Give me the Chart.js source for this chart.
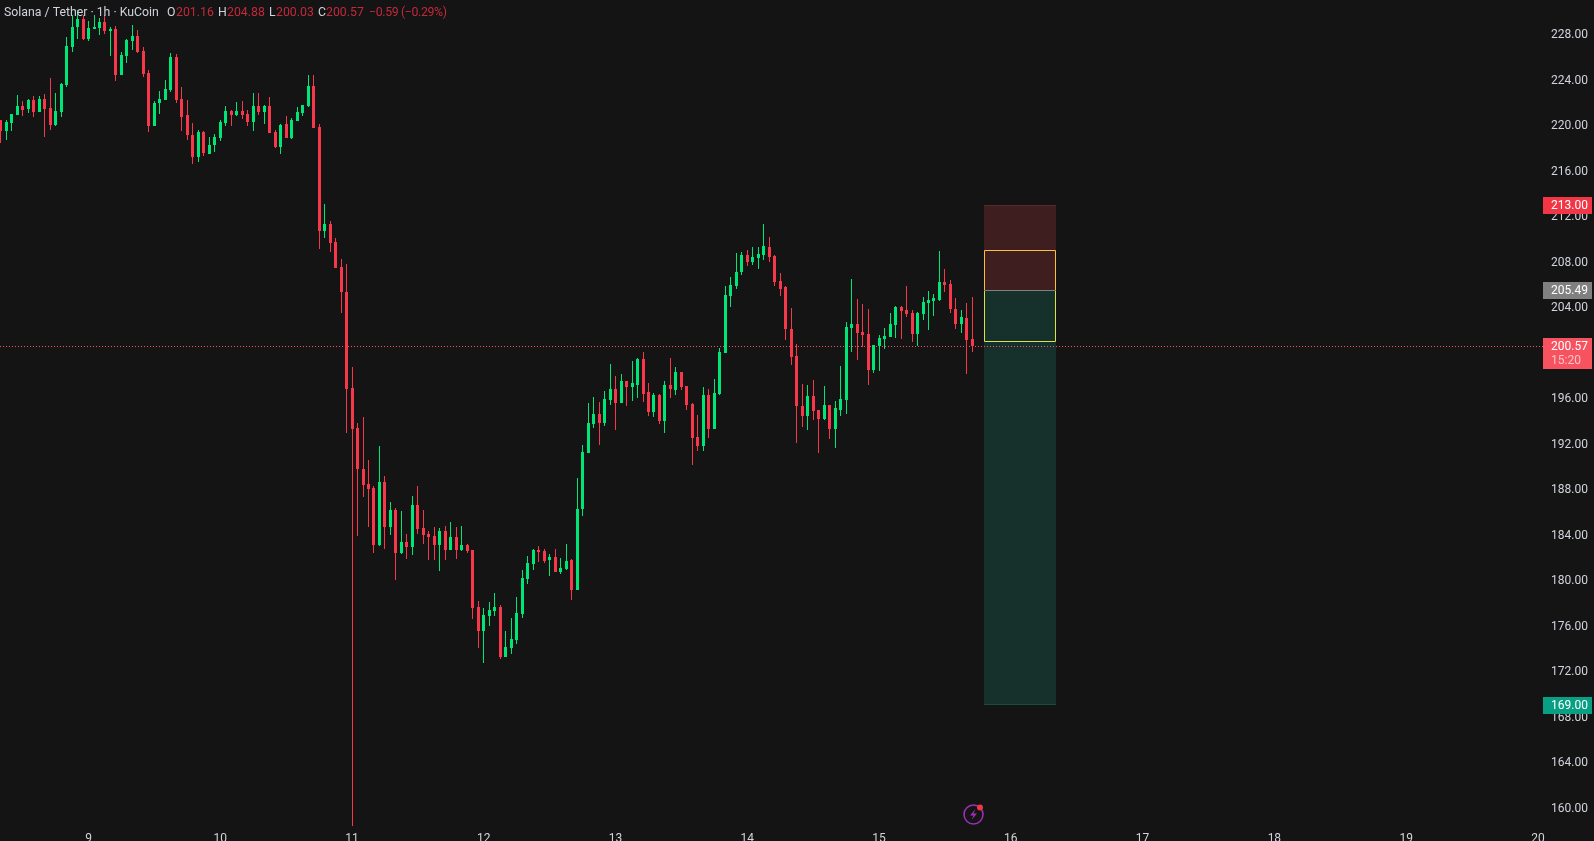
<!DOCTYPE html>
<html lang="en">
<head>
<meta charset="utf-8">
<title>Solana / Tether 1h KuCoin</title>
<script src="https://cdn.jsdelivr.net/npm/chart.js@4"></script>
<style>
  html, body { margin: 0; padding: 0; background: #141414; overflow: hidden; }
  #wrap { position: relative; width: 1594px; height: 841px; }
  #header { position: absolute; left: 4px; top: 5px; font: 12.3px Roboto, sans-serif; color: #d1d4dc; white-space: nowrap; }
  #header span { position: absolute; top: 0; }
  #header .val { color: #c4283c; }
  #header .chg { letter-spacing: -0.35px; }
  #bolt { position: absolute; left: 961px; top: 802px; }
</style>
</head>
<body>
<div id="wrap">
  <canvas id="chart"></canvas>
  <div id="header">
    <span style="left:0">Solana&nbsp;/&nbsp;Tether&nbsp;·&nbsp;1h&nbsp;·&nbsp;KuCoin</span>
    <span style="left:163px">O</span><span class="val" style="left:172px">201.16</span>
    <span style="left:214px">H</span><span class="val" style="left:223px">204.88</span>
    <span style="left:265px">L</span><span class="val" style="left:272px">200.03</span>
    <span style="left:314px">C</span><span class="val" style="left:322px">200.57</span>
    <span class="val chg" style="left:365px">−0.59 (−0.29%)</span>
  </div>
  <svg id="bolt" width="26" height="26" viewBox="0 0 26 26">
    <circle cx="12.5" cy="12.5" r="9.5" fill="none" stroke="#9c2fb5" stroke-width="1.6"/>
    <path d="M14.5 7 L9 13.5 L12.5 13.5 L10.5 18 L16 11.5 L12.5 11.5 Z" fill="#9c2fb5"/>
    <circle cx="19" cy="5.5" r="3" fill="#f23645"/>
  </svg>
</div>
<script>
const opens = [
  220.45,219.48,220.19,220.89,221.68,221.42,222.21,221.15,222.30,221.51,
  220.01,221.15,223.53,226.87,228.63,229.33,227.57,228.45,228.54,229.07,
  228.27,228.45,224.41,226.08,227.40,227.84,226.52,224.58,219.92,221.95,
  222.21,223.09,225.99,222.30,220.89,219.13,217.20,219.40,217.46,218.25,
  218.87,220.19,221.24,220.89,221.24,220.98,220.27,221.68,221.15,221.68,
  219.40,218.08,220.10,218.87,220.36,221.07,221.68,223.44,219.84,210.69,
  211.31,209.73,207.53,205.33,196.89,193.38,189.77,188.45,188.10,183.09,
  188.63,184.67,186.17,182.39,183.35,182.91,186.61,184.59,184.06,183.88,
  183.09,184.32,182.65,183.79,182.65,183.09,182.66,177.65,175.54,176.86,
  177.30,177.65,173.25,174.04,174.75,177.03,180.11,181.43,182.66,182.57,
  181.78,182.04,180.72,180.99,181.78,179.14,186.26,191.19,193.74,194.61,
  193.82,195.85,196.81,195.58,197.52,196.99,197.16,199.45,196.55,194.79,
  196.28,194.00,197.16,196.72,198.31,197.08,195.49,192.59,191.80,196.28,
  193.29,196.37,199.97,204.98,205.86,207.09,208.59,207.97,208.32,208.59,
  209.29,208.50,206.30,205.78,202.08,199.71,195.32,194.44,196.19,194.96,
  194.17,195.40,193.29,194.96,195.84,202.17,202.52,201.82,201.64,198.48,
  200.59,201.20,201.38,202.44,204.02,203.75,203.49,201.64,203.40,204.37,
  204.54,204.63,206.22,206.04,203.84,202.52,203.05,201.16
];
const highs = [
  220.45,220.45,220.98,222.65,222.12,222.30,222.56,222.56,222.74,224.14,
  222.82,223.70,227.75,229.68,230.12,229.68,229.15,229.68,229.42,229.68,
  228.63,228.71,226.43,227.57,228.80,228.36,226.87,224.85,222.12,223.00,
  223.97,226.34,226.25,223.35,222.21,220.19,219.57,219.48,218.96,219.22,
  220.45,221.68,221.33,222.03,222.12,221.33,222.82,222.82,221.77,222.47,
  219.57,220.10,220.80,220.63,221.59,221.77,224.41,224.41,220.10,213.07,
  211.57,210.08,208.23,207.79,198.74,193.82,194.34,190.56,188.28,191.79,
  189.16,186.87,186.34,186.08,184.06,187.40,188.28,186.17,184.32,184.67,
  184.59,184.76,185.11,184.67,184.76,183.18,182.66,178.17,177.56,178.09,
  178.88,177.82,175.54,176.68,178.53,180.90,182.13,182.75,183.01,182.75,
  182.31,182.75,181.96,183.19,181.87,188.99,191.89,195.58,196.11,195.67,
  196.64,199.01,197.96,198.13,197.52,199.27,199.54,200.07,197.34,196.46,
  196.37,197.52,199.54,198.75,198.31,197.08,195.58,194.53,196.99,196.81,
  197.69,200.41,205.86,206.65,208.76,208.85,209.03,209.29,209.29,211.31,
  210.17,208.59,207.01,205.86,203.93,200.77,197.25,197.16,197.60,194.96,
  197.07,195.40,195.75,198.83,202.70,206.48,204.72,204.28,203.84,200.68,
  201.56,202.17,203.49,204.11,204.11,205.86,203.75,203.58,204.90,205.42,
  205.16,208.94,207.36,206.39,204.81,203.75,204.37,204.88
];
const lows = [
  218.46,218.69,219.48,220.89,220.80,221.04,220.71,221.15,218.96,219.57,
  219.92,220.71,223.35,226.43,227.57,227.48,227.40,228.45,227.92,228.01,
  226.08,223.88,224.41,225.46,226.60,226.34,224.23,219.40,219.92,220.98,
  222.21,222.91,221.95,219.48,218.69,216.58,216.76,217.29,217.46,217.64,
  218.60,219.92,219.92,220.80,220.54,219.92,219.48,220.89,220.10,219.31,
  217.99,217.46,218.87,218.78,220.36,220.80,221.59,219.75,209.11,210.08,
  208.85,207.44,203.49,192.94,158.35,183.88,187.31,184.67,182.39,183.00,
  182.74,183.97,180.01,182.30,181.86,182.21,184.06,183.18,181.77,181.77,
  180.80,181.77,182.65,181.86,182.56,182.39,176.59,174.04,172.72,175.98,
  176.86,173.08,173.25,173.52,174.39,176.68,179.67,180.90,181.60,181.52,
  180.37,180.72,180.55,180.90,178.26,179.14,185.65,191.19,193.38,191.89,
  193.56,195.41,193.21,195.58,195.32,195.76,196.02,195.67,194.44,194.35,
  193.74,192.94,196.02,196.28,196.72,194.97,190.13,191.36,191.36,192.50,
  193.29,196.28,199.97,204.02,205.60,206.83,207.62,207.71,207.36,208.15,
  207.97,205.86,204.98,201.12,198.92,192.06,193.47,193.20,194.08,191.18,
  194.08,192.41,191.62,194.44,194.61,200.06,199.36,200.50,197.16,198.22,
  198.39,200.33,201.38,201.29,201.20,203.14,200.94,200.59,202.87,201.99,
  203.22,204.54,205.34,203.49,202.08,201.73,198.13,200.03
];
const closes = [
  219.51,220.30,220.98,221.68,221.33,222.21,221.15,222.30,221.42,220.01,
  221.24,223.62,226.96,228.63,229.33,227.57,228.54,228.63,229.07,228.27,
  228.45,224.41,226.16,227.48,227.84,226.43,224.49,219.92,221.95,222.30,
  223.18,225.99,222.21,220.71,219.13,217.20,219.40,217.55,218.25,218.96,
  220.27,221.24,220.89,221.24,220.89,220.27,221.68,221.15,221.68,219.31,
  218.08,220.01,218.87,220.45,221.15,221.77,223.44,219.75,210.69,211.31,
  209.64,207.44,205.33,196.80,193.29,189.77,188.37,188.01,183.09,188.63,
  184.67,186.17,182.39,183.35,182.91,186.61,184.50,183.97,183.79,183.09,
  184.32,182.65,183.79,182.65,183.09,182.56,177.56,175.54,176.94,177.38,
  177.65,173.25,174.13,174.83,177.12,180.20,181.52,182.66,182.48,181.69,
  182.04,180.72,181.08,181.69,179.14,186.26,191.27,193.82,194.61,193.82,
  195.93,196.81,195.58,197.52,196.99,197.34,199.45,196.37,194.79,196.28,
  194.00,197.16,196.81,198.31,196.99,195.41,192.50,191.80,196.28,193.29,
  196.46,200.06,205.07,205.95,207.09,208.59,207.97,208.41,208.68,209.38,
  208.41,206.22,205.60,202.08,199.62,195.32,194.44,196.19,194.87,194.17,
  195.40,193.29,195.14,195.93,202.26,202.52,201.73,201.56,198.48,200.68,
  201.29,201.47,202.52,204.02,203.67,203.40,201.64,203.49,204.46,204.63,
  204.81,206.22,205.95,203.84,202.52,203.14,201.12,200.57
];

const dayTicks = [16, 40, 64, 88, 112, 136, 160, 184, 208, 232, 256, 280];
const dayLabels = ['9', '10', '11', '12', '13', '14', '15', '16', '17', '18', '19', '20'];
const priceTicks = [160, 164, 168, 172, 176, 180, 184, 188, 192, 196, 200, 204, 208, 212, 216, 220, 224, 228];

const lastPrice = 200.57;
const stopPrice = 213.00;
const entryPrice = 205.49;
const targetPrice = 169.00;
const boxStart = 179.1;
const boxEnd = 192.2;
const boxHigh = 209.0;
const boxLow = 201.03;

const tagLabels = ['213.00', '205.49', '169.00'];
const tagValues = [stopPrice, entryPrice, targetPrice];
const tagColors = ['#f23645', '#808080', '#089f84'];

const UP = '#00e676';
const DOWN = '#f7374a';
const xMin = -0.122, xMax = 280.93;
const yMin = 158.13, yMax = 231.0;

const idx = opens.map((_, i) => i);
const candleColor = ctx => closes[ctx.dataIndex] >= opens[ctx.dataIndex] ? UP : DOWN;

// snap candles to whole pixels, the reference has no blur on them
const snapPlugin = {
  id: 'snap',
  afterDatasetsUpdate(chart) {
    chart.getSortedVisibleDatasetMetas().forEach(meta => {
      if (meta.type === 'line') {
        meta.data.forEach(p => { p.y = Math.round(p.y) + 0.5; });
        return;
      }
      meta.data.forEach(el => {
        el.x = Math.round(el.x - 0.5) + 0.5;
        const top = Math.round(Math.min(el.y, el.base));
        let bottom = Math.round(Math.max(el.y, el.base));
        if (bottom - top < 1) bottom = top + 1;
        el.y = top;
        el.base = bottom;
        el.height = bottom - top;
      });
    });
  }
};

// position tool behind the candles
const positionPlugin = {
  id: 'position',
  beforeDatasetsDraw(chart) {
    const { ctx, scales: { x, y } } = chart;
    const left = Math.round(x.getPixelForValue(boxStart));
    const right = Math.round(x.getPixelForValue(boxEnd));
    const py = v => Math.round(y.getPixelForValue(v));
    ctx.save();
    ctx.fillStyle = '#3f1e20';
    ctx.fillRect(left, py(stopPrice), right - left, py(entryPrice) - py(stopPrice));
    ctx.fillStyle = '#16302c';
    ctx.fillRect(left, py(entryPrice), right - left, py(targetPrice) - py(entryPrice));
    ctx.fillStyle = '#57282b';
    ctx.fillRect(left, py(stopPrice), right - left, 1);
    ctx.fillStyle = '#1d4a40';
    ctx.fillRect(left, py(targetPrice) - 1, right - left, 1);
    // yellow rectangle on top, colour shifts over the two zones
    ctx.lineWidth = 1;
    ctx.strokeStyle = '#fbbf3c';
    ctx.beginPath();
    ctx.moveTo(left + 0.5, py(entryPrice));
    ctx.lineTo(left + 0.5, py(boxHigh) + 0.5);
    ctx.lineTo(right - 0.5, py(boxHigh) + 0.5);
    ctx.lineTo(right - 0.5, py(entryPrice));
    ctx.stroke();
    ctx.strokeStyle = '#d9e24a';
    ctx.beginPath();
    ctx.moveTo(left + 0.5, py(entryPrice));
    ctx.lineTo(left + 0.5, py(boxLow) + 0.5);
    ctx.lineTo(right - 0.5, py(boxLow) + 0.5);
    ctx.lineTo(right - 0.5, py(entryPrice));
    ctx.stroke();
    ctx.fillStyle = '#808080';
    ctx.fillRect(left, py(entryPrice), right - left, 1);
    ctx.restore();
  }
};

// price tags over the right axis
const tagsPlugin = {
  id: 'tags',
  afterDraw(chart) {
    const { ctx, scales: { y } } = chart;
    const tagLeft = 1543, tagWidth = 49, textLeft = 1551;
    ctx.save();
    ctx.font = '12px Roboto, sans-serif';
    ctx.textBaseline = 'middle';
    ctx.textAlign = 'left';
    tagValues.forEach((v, i) => {
      const py = Math.round(y.getPixelForValue(v));
      ctx.fillStyle = tagColors[i];
      ctx.fillRect(tagLeft, py - 8, tagWidth, 17);
      ctx.fillStyle = '#ffffff';
      ctx.fillText(tagLabels[i], textLeft, py + 1);
    });
    const py = Math.round(y.getPixelForValue(lastPrice));
    ctx.fillStyle = '#f7525f';
    ctx.fillRect(tagLeft, py - 8, tagWidth, 31);
    ctx.fillStyle = '#ffffff';
    ctx.fillText(lastPrice.toFixed(2), textLeft, py + 1);
    ctx.fillStyle = 'rgba(255,255,255,0.65)';
    ctx.fillText('15:20', textLeft, py + 15);
    ctx.restore();
  }
};

new Chart(document.getElementById('chart'), {
  data: {
    datasets: [
      {
        type: 'bar',
        label: 'Body',
        data: idx.map(i => ({ x: i, y: [opens[i], closes[i]] })),
        backgroundColor: candleColor,
        barThickness: 3,
        inflateAmount: 0,
        grouped: false,
        order: 1
      },
      {
        type: 'bar',
        label: 'Wick',
        data: idx.map(i => ({ x: i, y: [lows[i], highs[i]] })),
        backgroundColor: candleColor,
        barThickness: 1,
        inflateAmount: 0,
        grouped: false,
        order: 2
      },
      {
        type: 'line',
        label: 'Last',
        data: [{ x: xMin, y: lastPrice }, { x: xMax, y: lastPrice }],
        borderColor: '#f7525f',
        borderWidth: 1,
        borderDash: [1, 2],
        pointRadius: 0,
        order: 3
      }
    ]
  },
  options: {
    responsive: true,
    maintainAspectRatio: false,
    animation: false,
    events: [],
    layout: { padding: 0 },
    plugins: { legend: { display: false }, tooltip: { enabled: false } },
    scales: {
      x: {
        type: 'linear',
        offset: false,
        min: xMin,
        max: xMax,
        grid: { display: false, drawTicks: false },
        border: { display: false },
        afterBuildTicks: scale => { scale.ticks = dayTicks.map(v => ({ value: v })); },
        afterFit: scale => {
          scale.height = 12;
          scale.paddingLeft = 0;
          scale.paddingRight = 0;
        },
        ticks: {
          color: '#d1d4dc',
          font: { family: 'Roboto', size: 12 },
          autoSkip: false,
          maxRotation: 0,
          padding: 3,
          callback: v => dayLabels[dayTicks.indexOf(v)]
        }
      },
      y: {
        position: 'right',
        offset: false,
        min: yMin,
        max: yMax,
        grid: { display: false, drawTicks: false },
        border: { display: false },
        afterBuildTicks: scale => { scale.ticks = priceTicks.map(v => ({ value: v })); },
        afterFit: scale => {
          scale.width = 51;
          scale.paddingTop = 0;
          scale.paddingBottom = 0;
        },
        ticks: {
          color: '#d1d4dc',
          font: { family: 'Roboto', size: 12 },
          padding: 8,
          labelOffset: 1,
          callback: v => v.toFixed(2)
        }
      }
    }
  },
  plugins: [snapPlugin, positionPlugin, tagsPlugin]
});
</script>
</body>
</html>
